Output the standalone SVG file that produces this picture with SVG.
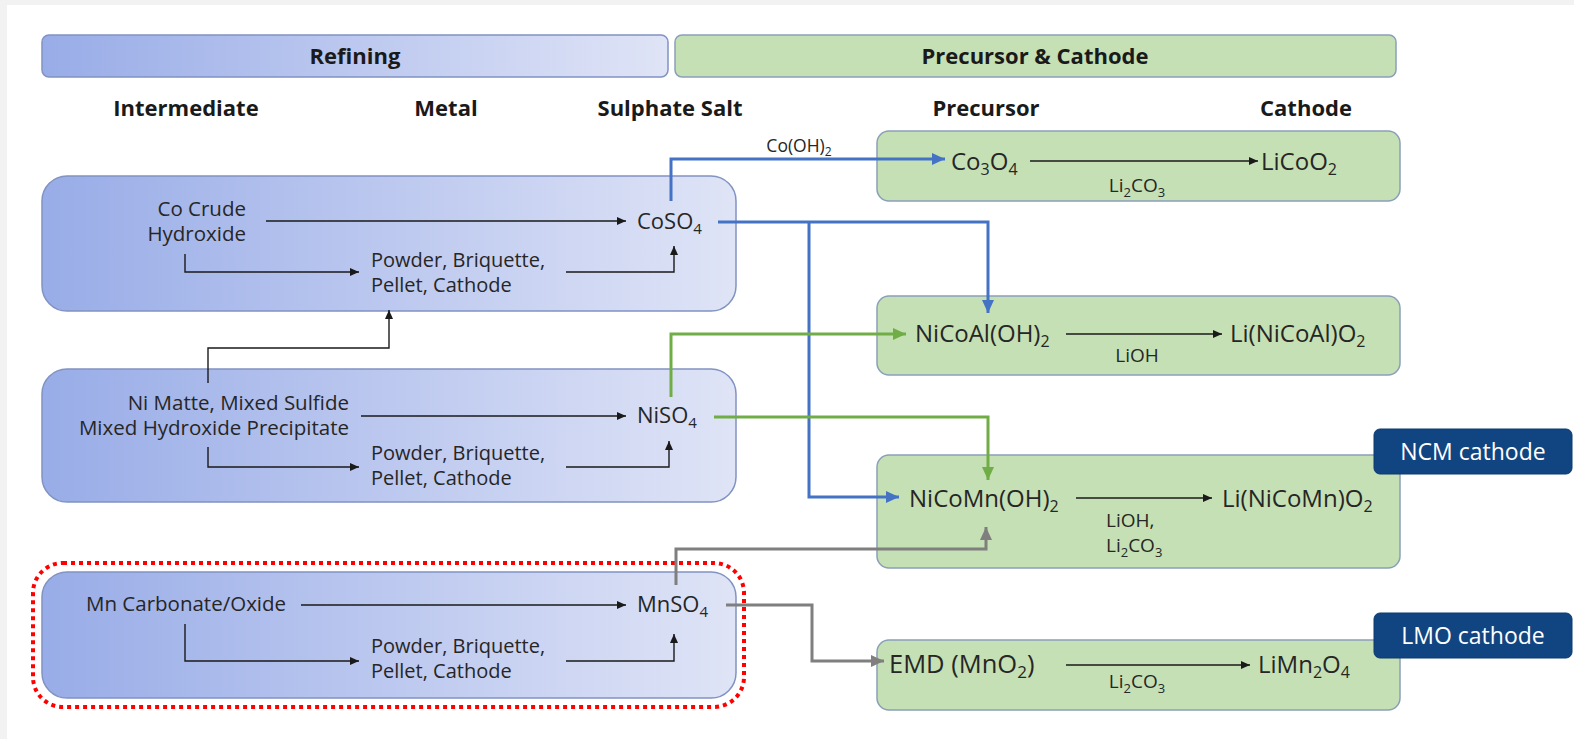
<svg xmlns="http://www.w3.org/2000/svg" width="1574" height="739" viewBox="0 0 1574 739">
<defs>
<linearGradient id="blueGrad" x1="0" y1="0" x2="1" y2="0">
<stop offset="0" stop-color="#98ace7"/>
<stop offset="0.5" stop-color="#bcc8ef"/>
<stop offset="1" stop-color="#dfe4f6"/>
</linearGradient>
<marker id="ahK" markerUnits="userSpaceOnUse" markerWidth="10" markerHeight="8" refX="9" refY="4" orient="auto"><path d="M0,0 L9,4 L0,8 Z" fill="#1a1a1a"/></marker>
<marker id="ahB" markerUnits="userSpaceOnUse" markerWidth="14" markerHeight="12" refX="13" refY="6" orient="auto"><path d="M0,0 L13,6 L0,12 Z" fill="#4472c4"/></marker>
<marker id="ahG" markerUnits="userSpaceOnUse" markerWidth="14" markerHeight="12" refX="13" refY="6" orient="auto"><path d="M0,0 L13,6 L0,12 Z" fill="#70ad47"/></marker>
<marker id="ahY" markerUnits="userSpaceOnUse" markerWidth="14" markerHeight="12" refX="13" refY="6" orient="auto"><path d="M0,0 L13,6 L0,12 Z" fill="#7f7f7f"/></marker>
</defs>
<style>
text{font-family:"Open Sans","Liberation Sans",sans-serif;fill:#262626;font-size:20.5px}
.hdr{font-weight:700;font-size:22px;fill:#1a1a1a}
.pb{font-size:20px}
.salt{font-size:22px}
.salt .sub{font-size:15px}
.form{font-size:24px}
.form .sub{font-size:16px}
.emd{font-size:25.5px}
.emd .sub{font-size:17px}
.reag{font-size:19px}
.reag .sub{font-size:13px}
.sm{font-size:17.5px}
.sub{font-size:14px}
.mid{text-anchor:middle}
.end{text-anchor:end}
.bluebox{fill:url(#blueGrad);stroke:#8193c2;stroke-width:1.5}
.greenbox{fill:#c5e0b4;stroke:#8a9fba;stroke-width:1.5}
.tag{fill:#114581;stroke:#0d3a6e;stroke-width:1}
.tagtxt{fill:#ffffff;font-size:23px;text-anchor:middle}
.k{fill:none;stroke:#1a1a1a;stroke-width:1.4;marker-end:url(#ahK)}
.b{fill:none;stroke:#4472c4;stroke-width:3;marker-end:url(#ahB)}
.g{fill:none;stroke:#70ad47;stroke-width:3;marker-end:url(#ahG)}
.y{fill:none;stroke:#7f7f7f;stroke-width:3;marker-end:url(#ahY)}
</style>
<rect x="0" y="0" width="1574" height="739" fill="#ffffff"/>
<rect x="0" y="0" width="1574" height="5" fill="#f2f2f2"/>
<rect x="0" y="0" width="7" height="739" fill="#f2f2f2"/>

<g id="header-refining">
<rect x="42" y="35" width="626" height="42" rx="7" class="bluebox"/>
<text x="355" y="64" class="hdr mid">Refining</text>
</g>
<g id="header-precursor-cathode">
<rect x="675" y="35" width="721" height="42" rx="7" class="greenbox" stroke="#8aa97a"/>
<text x="1035" y="64" class="hdr mid">Precursor &amp; Cathode</text>
</g>
<g id="column-headers">
<text x="186" y="116" class="hdr mid">Intermediate</text>
<text x="446" y="116" class="hdr mid">Metal</text>
<text x="670" y="116" class="hdr mid">Sulphate Salt</text>
<text x="986" y="116" class="hdr mid">Precursor</text>
<text x="1306" y="116" class="hdr mid">Cathode</text>
</g>

<g id="co-refining">
<rect x="42" y="176" width="694" height="135" rx="25" class="bluebox"/>
<text x="246" y="216" class="end">Co Crude</text>
<text x="246" y="241" class="end">Hydroxide</text>
<text x="371" y="267" class="pb">Powder, Briquette,</text>
<text x="371" y="292" class="pb">Pellet, Cathode</text>
<text x="637" y="229" class="salt">CoSO<tspan class="sub" dy="5">4</tspan></text>
</g>
<g id="ni-refining">
<rect x="42" y="369" width="694" height="133" rx="25" class="bluebox"/>
<text x="349" y="410" class="end">Ni Matte, Mixed Sulfide</text>
<text x="349" y="435" class="end">Mixed Hydroxide Precipitate</text>
<text x="371" y="460" class="pb">Powder, Briquette,</text>
<text x="371" y="485" class="pb">Pellet, Cathode</text>
<text x="637" y="423" class="salt">NiSO<tspan class="sub" dy="5">4</tspan></text>
</g>
<g id="mn-refining">
<rect x="33" y="563" width="711" height="144" rx="30" fill="none" stroke="#ff0000" stroke-width="4" stroke-dasharray="4 4"/>
<rect x="42" y="572" width="694" height="126" rx="25" class="bluebox"/>
<text x="86" y="611">Mn Carbonate/Oxide</text>
<text x="371" y="653" class="pb">Powder, Briquette,</text>
<text x="371" y="678" class="pb">Pellet, Cathode</text>
<text x="637" y="612" class="salt">MnSO<tspan class="sub" dy="5">4</tspan></text>
</g>

<g id="lco">
<rect x="877" y="131" width="523" height="70" rx="12" class="greenbox"/>
<text x="951" y="170" class="form">Co<tspan class="sub" dy="5">3</tspan><tspan dy="-5">O</tspan><tspan class="sub" dy="5">4</tspan></text>
<text x="1261" y="170" class="form">LiCoO<tspan class="sub" dy="5">2</tspan></text>
<text x="1137" y="192" class="mid reag">Li<tspan class="sub" dy="5">2</tspan><tspan dy="-5">CO</tspan><tspan class="sub" dy="5">3</tspan></text>
</g>
<g id="nca">
<rect x="877" y="296" width="523" height="79" rx="12" class="greenbox"/>
<text x="915" y="342" class="form">NiCoAl(OH)<tspan class="sub" dy="5">2</tspan></text>
<text x="1230" y="342" class="form">Li(NiCoAl)O<tspan class="sub" dy="5">2</tspan></text>
<text x="1137" y="362" class="mid reag">LiOH</text>
</g>
<g id="ncm">
<rect x="877" y="455" width="523" height="113" rx="12" class="greenbox"/>
<text x="909" y="507" class="form">NiCoMn(OH)<tspan class="sub" dy="5">2</tspan></text>
<text x="1222" y="507" class="form">Li(NiCoMn)O<tspan class="sub" dy="5">2</tspan></text>
<text x="1106" y="527" class="reag">LiOH,</text>
<text x="1106" y="552" class="reag">Li<tspan class="sub" dy="5">2</tspan><tspan dy="-5">CO</tspan><tspan class="sub" dy="5">3</tspan></text>
</g>
<g id="lmo">
<rect x="877" y="640" width="523" height="70" rx="12" class="greenbox"/>
<text x="889" y="673" class="emd">EMD (MnO<tspan class="sub" dy="5">2</tspan><tspan dy="-5">)</tspan></text>
<text x="1258" y="673" class="form">LiMn<tspan class="sub" dy="5">2</tspan><tspan dy="-5">O</tspan><tspan class="sub" dy="5">4</tspan></text>
<text x="1137" y="688" class="mid reag">Li<tspan class="sub" dy="5">2</tspan><tspan dy="-5">CO</tspan><tspan class="sub" dy="5">3</tspan></text>
</g>
<g id="ncm-tag">
<rect x="1374" y="429" width="198" height="45" rx="6" class="tag"/>
<text x="1473" y="460" class="tagtxt">NCM cathode</text>
</g>
<g id="lmo-tag">
<rect x="1374" y="613" width="198" height="45" rx="6" class="tag"/>
<text x="1473" y="644" class="tagtxt">LMO cathode</text>
</g>

<g id="connectors">
<path d="M266 221 H626" class="k"/>
<path d="M185 254 V272 H359" class="k"/>
<path d="M566 272 H674 V246" class="k"/>
<path d="M208 383 V348 H389 V310" class="k"/>
<path d="M361 416 H626" class="k"/>
<path d="M208 447 V467 H359" class="k"/>
<path d="M566 467 H669 V441" class="k"/>
<path d="M301 605 H626" class="k"/>
<path d="M185 624 V661 H359" class="k"/>
<path d="M566 661 H674 V634" class="k"/>
<path d="M1030 161 H1258" class="k"/>
<path d="M1066 334 H1222" class="k"/>
<path d="M1076 498 H1212" class="k"/>
<path d="M1066 665 H1250" class="k"/>
<path d="M671 201 V159 H945" class="b"/>
<text x="799" y="152" class="mid sm">Co(OH)<tspan style="font-size:12px" dy="4">2</tspan></text>
<path d="M718 222 H988 V313" class="b"/>
<path d="M809 222 V497 H899" class="b"/>
<path d="M671 397 V334 H906" class="g"/>
<path d="M714 417 H988 V480" class="g"/>
<path d="M676 585 V549 H986 V527" class="y"/>
<path d="M726 605 H812 V661 H884" class="y"/>
</g>
</svg>
